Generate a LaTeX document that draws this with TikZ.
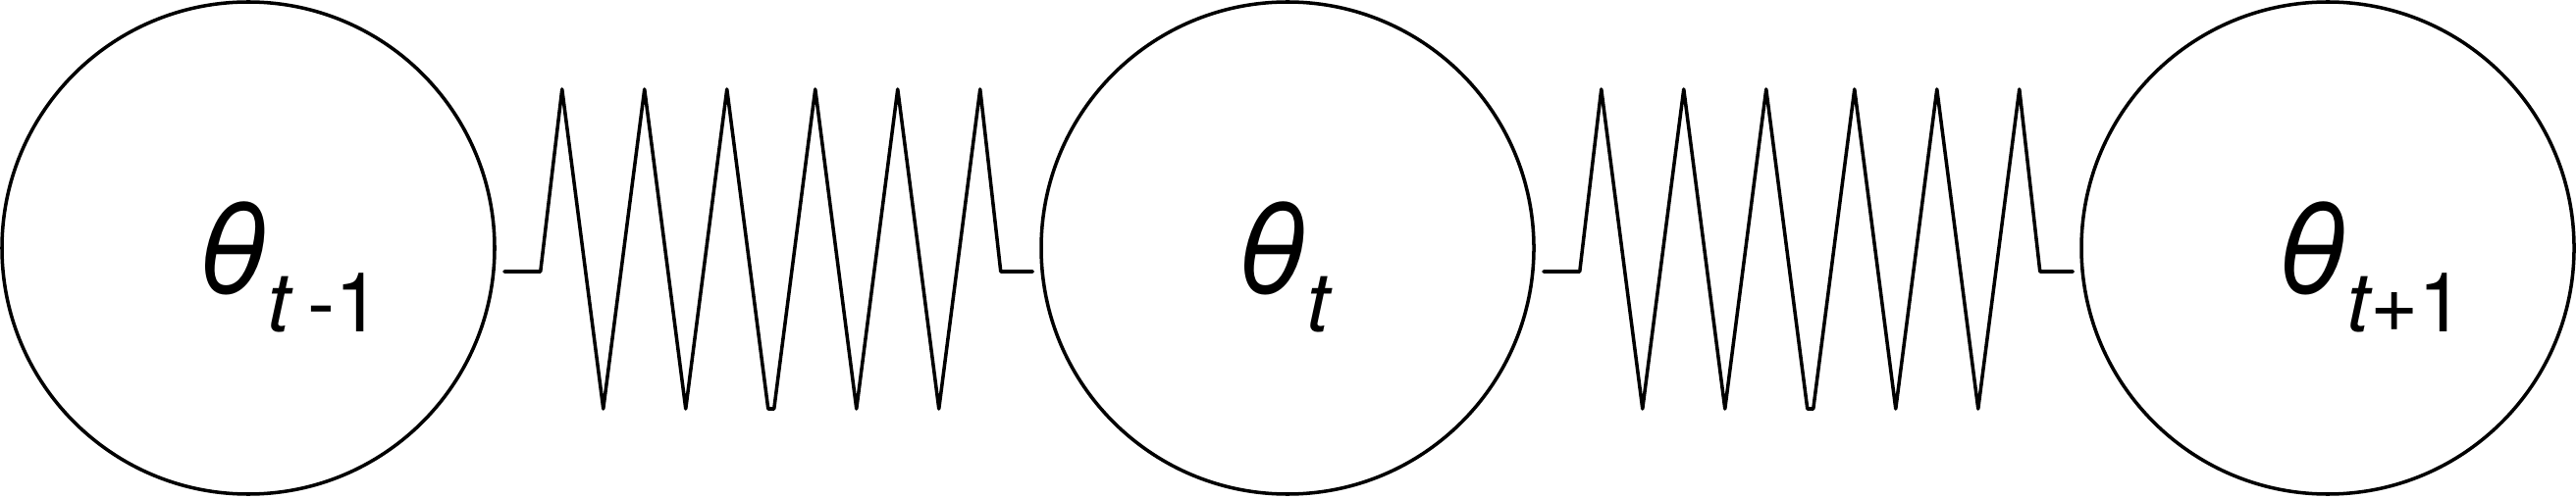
\documentclass[tikz,border=0pt]{standalone}
\usepackage{fontspec}
\setmainfont{TeX Gyre Heros}

% нижний индекс справа от буквы: #1 курсивом, #2 прямо
\newcommand{\lowidx}[2]{%
  \rlap{\raisebox{-0.39cm}[0pt][0pt]{%
    \fontsize{24}{26}\selectfont #1\upshape #2}}}

\begin{document}
\begin{tikzpicture}[
  line cap=round,
  line join=round,
  ball/.style={
    draw,
    circle,
    line width=1pt,
    minimum size=5.02cm,
    inner sep=0pt,
    font=\fontsize{36}{40}\selectfont\itshape
  },
  spring/.style={
    line width=1pt
  }
]
  \useasboundingbox (0,-2.55) rectangle (26.25,2.53);

  % Шары
  \node[ball] (prev) at (2.53,0)
    {\hspace*{-0.34cm}θ\lowidx{t}{\hspace{0.17cm}-1}};
  \node[ball] (cur) at (13.12,0)
    {\hspace*{-0.34cm}θ\lowidx{t}{}};
  \node[ball] (succ) at (23.72,0)
    {\hspace*{-0.34cm}θ\lowidx{t}{+1}};

  % Пружины между шарами
  \foreach \a/\b in {prev/cur, cur/succ}
    \draw[spring]
      ([shift={(0.08,-0.24)}]\a.east)
      -- ++(0.37,0)
      -- ++(0.22,1.86)
      -- ++(0.42,-3.26)
      -- ++(0.42,3.26)
      -- ++(0.42,-3.26)
      -- ++(0.42,3.26)
      -- ++(0.42,-3.26)
      -- ++(0.06,0)
      -- ++(0.42,3.26)
      -- ++(0.42,-3.26)
      -- ++(0.42,3.26)
      -- ++(0.42,-3.26)
      -- ++(0.42,3.26)
      -- ++(0.21,-1.86)
      -- ([shift={(-0.07,-0.24)}]\b.west);
\end{tikzpicture}
\end{document}
